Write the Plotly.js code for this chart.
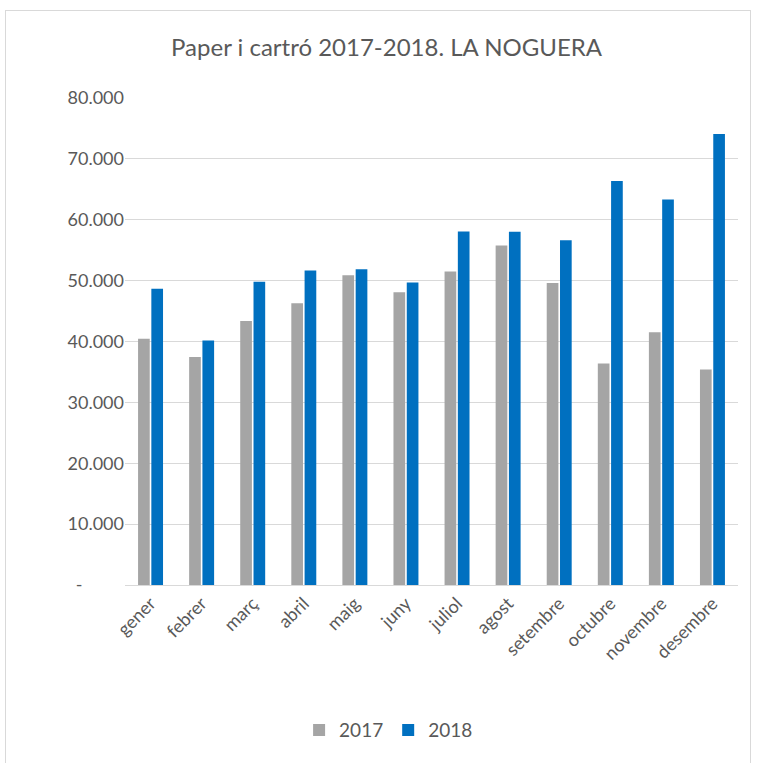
<!DOCTYPE html>
<html>
<head>
<meta charset="utf-8">
<script src="https://cdn.plot.ly/plotly-3.0.1.min.js"></script>
<style>
html,body{margin:0;padding:0;background:#fff;}
#frame{position:absolute;left:5px;top:10px;width:746px;height:760px;border:1px solid #d9d9d9;box-sizing:border-box;pointer-events:none;z-index:5;}
#chart{width:758px;height:763px;}
</style>
</head>
<body>
<div id="frame"></div>
<div id="chart"></div>
<script>
const months = ["gener","febrer","març","abril","maig","juny","juliol","agost","setembre","octubre","novembre","desembre"];
const values2017 = [40450, 37450, 43350, 46300, 50900, 48100, 51500, 55780, 49600, 36400, 41500, 35400];
const values2018 = [48650, 40180, 49800, 51650, 51850, 49700, 58080, 58020, 56650, 66350, 63330, 74100];
const yTickVals = [0, 10000, 20000, 30000, 40000, 50000, 60000, 70000, 80000];
const yTickText = ["-\u00a0\u00a0\u00a0\u00a0\u00a0\u00a0\u00a0\u00a0\u00a0", "10.000", "20.000", "30.000", "40.000", "50.000", "60.000", "70.000", "80.000"];

const font = "Lato, 'Open Sans', sans-serif";
const textColor = "#595959";

const data = [
  {type:"bar", name:"2017", x:months, y:values2017, marker:{color:"#A5A5A5"}},
  {type:"bar", name:"2018", x:months, y:values2018, marker:{color:"#0070C0"}}
];

const layout = {
  width:758, height:763,
  margin:{l:125, r:20, t:98, b:178},
  paper_bgcolor:"#fff", plot_bgcolor:"#fff",
  font:{family:font, color:textColor, size:18},
  title:{text:"Paper i cartró 2017-2018. LA NOGUERA", font:{family:font, size:24, color:textColor}, x:0.51, xanchor:"center", y:1-48/763, yanchor:"middle", yref:"container"},
  barmode:"group", bargap:0.48, bargroupgap:0.12,
  xaxis:{tickangle:-45, tickfont:{size:18, color:textColor}, showgrid:false, showline:true, linecolor:"#d9d9d9", linewidth:1, ticks:""},
  yaxis:{range:[0,80000], tickvals:yTickVals, ticktext:yTickText, tickfont:{size:18, color:textColor}, showgrid:true, gridcolor:"#d9d9d9", gridwidth:1, zeroline:false, showline:false, ticks:""},
  legend:{orientation:"h", x:0.43, xanchor:"center", y:-0.298, yanchor:"middle", font:{size:19, color:textColor}, itemwidth:30},
  showlegend:true
};

Plotly.newPlot("chart", data, layout, {displayModeBar:false, staticPlot:true});
</script>
</body>
</html>
